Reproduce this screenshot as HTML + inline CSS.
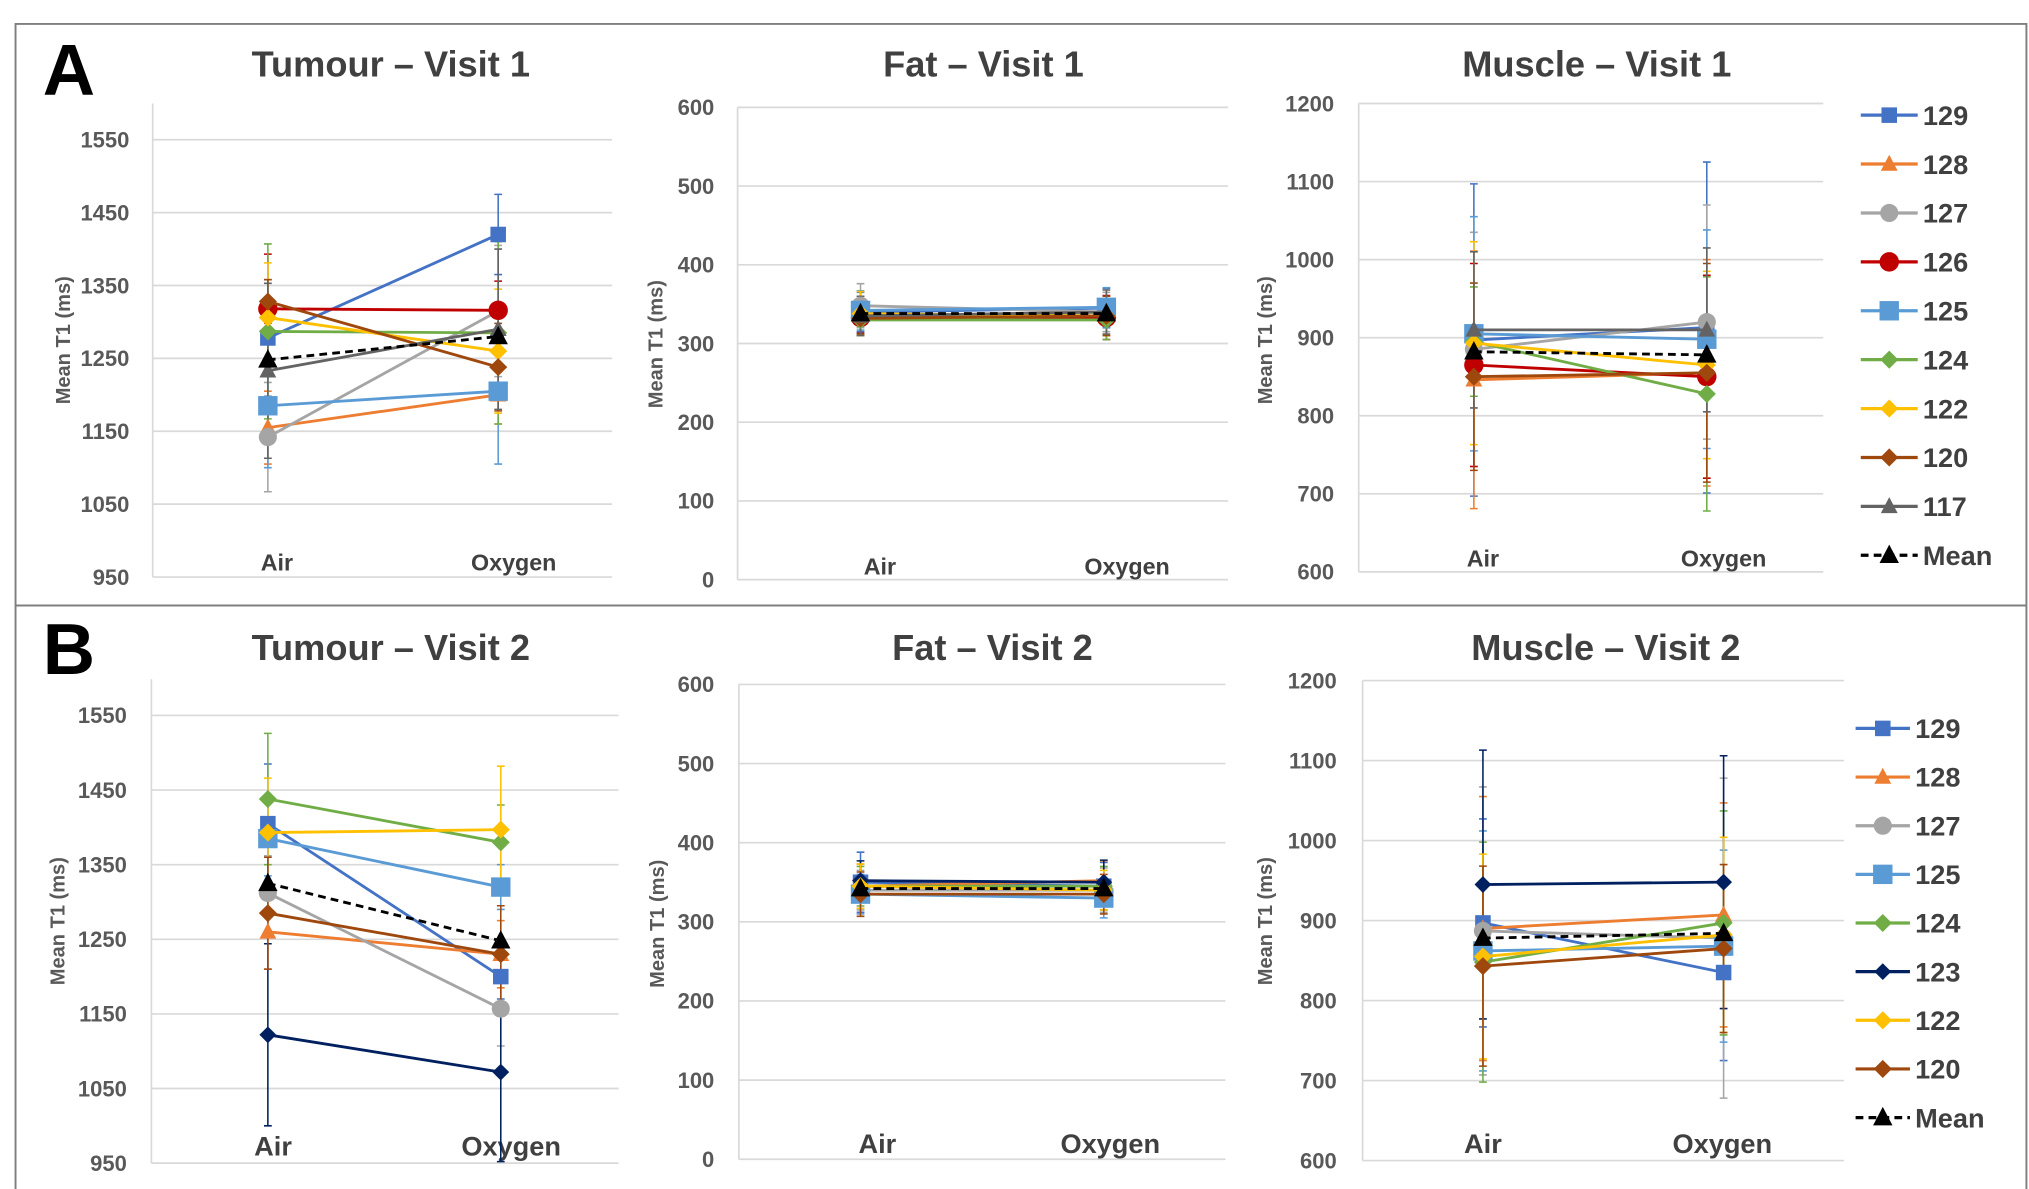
<!DOCTYPE html>
<html><head><meta charset="utf-8"><style>
html,body{margin:0;padding:0;background:#fff;}
svg{display:block;font-family:"Liberation Sans",Arial,sans-serif;}
</style></head><body>
<svg id="fig" width="2029" height="1189" viewBox="0 0 1568 919" preserveAspectRatio="none" xmlns="http://www.w3.org/2000/svg">
<rect x="0" y="0" width="1568" height="919" fill="#fff"/>
<path d="M12,919 V18.5 H1566 V919" fill="none" stroke="#7f7f7f" stroke-width="1.5"/>
<line x1="12" y1="468" x2="1566" y2="468" stroke="#7f7f7f" stroke-width="1.5"/>
<text x="33" y="73" font-size="56" font-weight="bold" fill="#000">A</text>
<text x="33" y="521" font-size="56" font-weight="bold" fill="#000">B</text>
</svg>
<script>
const categories = ["Air", "Oxygen"];
const idsV1 = ["129","128","127","126","125","124","122","120","117","Mean"];
const idsV2 = ["129","128","127","125","124","123","122","120","Mean"];

const tumourV1Values = [[1278,1420],[1155,1200],[1142,1315],[1318,1316],[1185,1205],[1287,1285],[1306,1260],[1328,1238],[1233,1290],[1248,1280]];
const tumourV1Errors = [[80,55],[50,40],[75,90],[75,40],[85,100],[120,125],[75,85],[30,60],[120,110],[0,0]];
const fatV1Values = [[340,345],[335,335],[348,340],[333,333],[342,346],[330,330],[338,335],[332,335],[335,340],[338,338]];
const fatV1Errors = [[25,25],[25,25],[28,25],[20,28],[25,25],[20,25],[28,25],[20,25],[25,28],[0,0]];
const muscleV1Values = [[897,913],[846,855],[885,920],[865,850],[905,898],[895,828],[893,865],[850,855],[910,910],[882,878]];
const muscleV1Errors = [[200,212],[165,145],[150,150],[130,130],[150,140],[70,150],[130,120],[120,140],[100,105],[0,0]];

const tumourV2Values = [[1405,1200],[1260,1230],[1312,1157],[1385,1320],[1438,1380],[1122,1072],[1393,1397],[1285,1230],[1325,1248]];
const tumourV2Errors = [[80,30],[50,45],[50,50],[50,30],[88,50],[122,120],[73,85],[75,65],[0,0]];
const fatV2Values = [[350,345],[345,352],[340,340],[335,330],[345,345],[352,350],[345,340],[335,335],[342,342]];
const fatV2Errors = [[38,30],[28,25],[25,28],[25,25],[25,25],[25,28],[28,25],[28,25],[0,0]];
const muscleV2Values = [[897,835],[890,907],[887,878],[862,868],[848,897],[945,948],[855,882],[843,865],[878,884]];
const muscleV2Errors = [[130,110],[165,140],[180,200],[150,120],[150,140],[168,158],[128,122],[125,105],[0,0]];

const tumourTicks = [950,1050,1150,1250,1350,1450,1550];
const fatTicks = [0,100,200,300,400,500,600];
const muscleTicks = [600,700,800,900,1000,1100,1200];

const styleMap = {
  "129":{c:"#4472C4",m:"square",s:12},
  "128":{c:"#ED7D31",m:"triangle",s:13},
  "127":{c:"#A5A5A5",m:"circle",s:14},
  "126":{c:"#C00000",m:"circle",s:15},
  "125":{c:"#5B9BD5",m:"square",s:15},
  "124":{c:"#70AD47",m:"diamond",s:14},
  "123":{c:"#002060",m:"diamond",s:13},
  "122":{c:"#FFC000",m:"diamond",s:14},
  "120":{c:"#9E480E",m:"diamond",s:14},
  "117":{c:"#636363",m:"triangle",s:13},
  "Mean":{c:"#000000",m:"triangle",s:15,dash:true}
};

const NS = "http://www.w3.org/2000/svg";
const svg = document.getElementById("fig");
function mk(tag, attrs, parent){
  const e = document.createElementNS(NS, tag);
  for (const k in attrs) e.setAttribute(k, attrs[k]);
  (parent||svg).appendChild(e);
  return e;
}
function marker(g, kind, x, y, s, c){
  let e;
  if (kind==="square") e = mk("rect",{x:x-s/2,y:y-s/2,width:s,height:s,fill:c},g);
  else if (kind==="circle") e = mk("circle",{cx:x,cy:y,r:s/2,fill:c},g);
  else if (kind==="diamond") e = mk("polygon",{points:`${x},${y-s/2} ${x+s/2},${y} ${x},${y+s/2} ${x-s/2},${y}`,fill:c},g);
  else e = mk("polygon",{points:`${x},${y-s*0.55} ${x+s/2},${y+s*0.4} ${x-s/2},${y+s*0.4}`,fill:c},g);
  return e;
}

function panel(p){
  const g = mk("g",{});
  
  
  const yScale = v => p.yBot - (v - p.min) / (p.max - p.min) * (p.yBot - p.yTop);
  const xScale = i => p.xs[i];
  p.ticks.forEach(t => {
    const y = yScale(t);
    const gl = mk("line",{x1:p.axisX,x2:p.right,y1:y,y2:y,stroke:"#d9d9d9","stroke-width":1.3},g);
    
    
    const tl = mk("text",{x:p.tickRight,y:y+6,"text-anchor":"end","font-size":17,"font-weight":"bold",fill:"#595959"},g);
    tl.textContent = t;
    
    
  });
  const ax = mk("line",{x1:p.axisX,x2:p.axisX,y1:p.axisTop,y2:p.yBot,stroke:"#d9d9d9","stroke-width":1.3},g);
  
  
  const tt = mk("text",{x:p.titleX,y:p.titleY,"text-anchor":"middle","font-size":28,"font-weight":"bold",fill:"#404040"},g);
  tt.textContent = p.title;
  
  
  const yt = mk("text",{x:0,y:0,transform:`translate(${p.yTitleX},${p.yTitleY}) rotate(-90)`,"text-anchor":"middle","font-size":15.5,"font-weight":"bold",fill:"#595959"},g);
  yt.textContent = "Mean T1 (ms)";
  
  
  categories.forEach((c,i) => {
    const cl = mk("text",{x:p.catX[i],y:p.catY,"text-anchor":"middle","font-size":p.catFont,"font-weight":"bold",fill:"#404040"},g);
    cl.textContent = c;
    
    
  });
  const clipLo = p.yBot, clipHi = p.axisTop;
  const clamp = y => Math.max(clipHi, Math.min(clipLo, y));
  p.ids.forEach((id, si) => {
    const st = styleMap[id];
    categories.forEach((c, ci) => {
      const v = p.values[si][ci], e = p.errors[si][ci];
      if (!e) return;
      const x = xScale(ci), y1 = clamp(yScale(v+e)), y2 = clamp(yScale(v-e));
      const eb = mk("path",{d:`M${x},${y1} V${y2} M${x-3},${y1} H${x+3} M${x-3},${y2} H${x+3}`,stroke:st.c,"stroke-width":1.2,fill:"none"},g);
      
      
    });
  });
  p.ids.forEach((id, si) => {
    const st = styleMap[id];
    const ln = mk("line",{x1:xScale(0),y1:yScale(p.values[si][0]),x2:xScale(1),y2:yScale(p.values[si][1]),stroke:st.c,"stroke-width":2.2,"stroke-dasharray":st.dash?"6,4":"none"},g);
    
    
    categories.forEach((c, ci) => {
      const m = marker(g, st.m, xScale(ci), yScale(p.values[si][ci]), st.s, st.c);
      
      
    });
  });
  if (p.legend) {
    const L = p.legend;
    p.ids.forEach((id, i) => {
      const st = styleMap[id];
      const y = L.y0 + i * L.dy;
      const lg = mk("g",{},g);
      
      
      mk("line",{x1:L.x1,x2:L.x2,y1:y,y2:y,stroke:st.c,"stroke-width":2.5,"stroke-dasharray":st.dash?"6,4":"none"},lg);
      marker(lg, st.m, (L.x1+L.x2)/2, y, st.s, st.c);
      const tx = mk("text",{x:L.tx,y:y+7.5,"font-size":21,"font-weight":"bold",fill:"#404040"},lg);
      tx.textContent = id;
    });
  }
}

panel({name:"tumour-visit1-chart",title:"Tumour – Visit 1",titleX:302,titleY:59,ids:idsV1,values:tumourV1Values,errors:tumourV1Errors,
  ticks:tumourTicks,min:950,max:1550,yTop:108,yBot:446,axisTop:80,axisX:118,right:473,xs:[207,385],catX:[214,397],catY:441,catFont:18,
  tickRight:100,yTitleX:54,yTitleY:263});
panel({name:"fat-visit1-chart",title:"Fat – Visit 1",titleX:760,titleY:59,ids:idsV1,values:fatV1Values,errors:fatV1Errors,
  ticks:fatTicks,min:0,max:600,yTop:83,yBot:448,axisTop:83,axisX:570,right:949,xs:[665,855],catX:[680,871],catY:444,catFont:18,
  tickRight:552,yTitleX:512,yTitleY:266});
panel({name:"muscle-visit1-chart",title:"Muscle – Visit 1",titleX:1234,titleY:59,ids:idsV1,values:muscleV1Values,errors:muscleV1Errors,
  ticks:muscleTicks,min:600,max:1200,yTop:80,yBot:442,axisTop:80,axisX:1050,right:1409,xs:[1139,1319],catX:[1146,1332],catY:438,catFont:18,
  tickRight:1031,yTitleX:983,yTitleY:263,legend:{x1:1438,x2:1482,tx:1486,y0:89,dy:37.8}});
panel({name:"tumour-visit2-chart",title:"Tumour – Visit 2",titleX:302,titleY:510,ids:idsV2,values:tumourV2Values,errors:tumourV2Errors,
  ticks:tumourTicks,min:950,max:1550,yTop:553,yBot:899,axisTop:525,axisX:117,right:478,xs:[207,387],catX:[211,395],catY:893,catFont:21,
  tickRight:98,yTitleX:50,yTitleY:712});
panel({name:"fat-visit2-chart",title:"Fat – Visit 2",titleX:767,titleY:510,ids:idsV2,values:fatV2Values,errors:fatV2Errors,
  ticks:fatTicks,min:0,max:600,yTop:529,yBot:896,axisTop:529,axisX:571,right:947,xs:[665,853],catX:[678,858],catY:891,catFont:21,
  tickRight:552,yTitleX:513,yTitleY:714});
panel({name:"muscle-visit2-chart",title:"Muscle – Visit 2",titleX:1241,titleY:510,ids:idsV2,values:muscleV2Values,errors:muscleV2Errors,
  ticks:muscleTicks,min:600,max:1200,yTop:526,yBot:897,axisTop:526,axisX:1053,right:1425,xs:[1146,1332],catX:[1146,1331],catY:891,catFont:21,
  tickRight:1033,yTitleX:983,yTitleY:712,legend:{x1:1434,x2:1476,tx:1480,y0:563,dy:37.6}});
</script>
</body></html>
